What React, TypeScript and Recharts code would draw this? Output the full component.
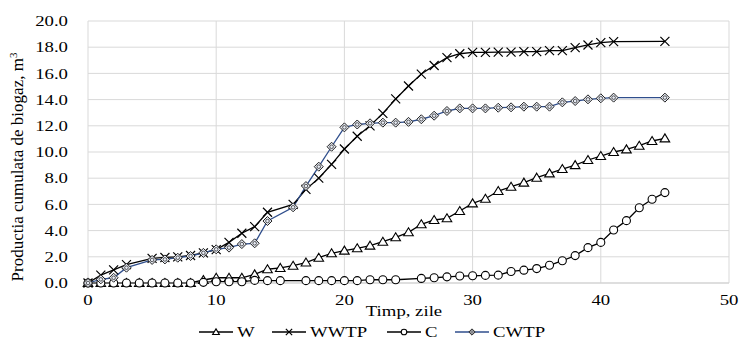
import { LineChart, Line, XAxis, YAxis, CartesianGrid, Legend } from 'recharts';

// zile (days) for each series
const daysW = [0, 1, 2, 3, 4, 5, 6, 7, 8, 9, 10, 11, 12, 13, 14, 15, 16, 17, 18, 19, 20, 21, 22, 23, 24, 25, 26, 27, 28, 29, 30, 31, 32, 33, 34, 35, 36, 37, 38, 39, 40, 41, 42, 43, 44, 45];
const valuesW = [0, 0, 0, 0, 0, 0, 0, 0, 0, 0.23, 0.4, 0.4, 0.4, 0.66, 1.05, 1.15, 1.32, 1.56, 1.93, 2.27, 2.47, 2.65, 2.85, 3.15, 3.49, 3.87, 4.48, 4.81, 4.94, 5.5, 6.08, 6.43, 7.02, 7.35, 7.66, 8.04, 8.37, 8.7, 9.0, 9.39, 9.69, 10.0, 10.2, 10.48, 10.84, 11.04];

const daysWWTP = [0, 1, 2, 3, 5, 6, 7, 8, 9, 10, 11, 12, 13, 14, 16, 17, 18, 19, 20, 21, 22, 23, 24, 25, 26, 27, 28, 29, 30, 31, 32, 33, 34, 35, 36, 37, 38, 39, 40, 41, 45];
const valuesWWTP = [0, 0.6, 1.0, 1.4, 1.88, 1.95, 2.0, 2.1, 2.3, 2.55, 3.1, 3.8, 4.3, 5.4, 6.0, 7.15, 8.0, 9.06, 10.23, 11.2, 12.0, 12.95, 14.05, 15.04, 15.95, 16.6, 17.2, 17.5, 17.6, 17.6, 17.62, 17.62, 17.66, 17.66, 17.74, 17.74, 17.97, 18.17, 18.35, 18.42, 18.45];

const daysC = [0, 1, 2, 3, 4, 5, 6, 7, 8, 9, 10, 11, 12, 13, 14, 15, 17, 18, 19, 20, 21, 22, 23, 24, 26, 27, 28, 29, 30, 31, 32, 33, 34, 35, 36, 37, 38, 39, 40, 41, 42, 43, 44, 45];
const valuesC = [0, 0, 0, 0, 0, 0, 0, 0, 0, 0.05, 0.1, 0.1, 0.1, 0.2, 0.18, 0.18, 0.18, 0.18, 0.18, 0.18, 0.18, 0.25, 0.25, 0.25, 0.35, 0.4, 0.47, 0.53, 0.55, 0.58, 0.6, 0.88, 0.98, 1.1, 1.35, 1.7, 2.09, 2.7, 3.1, 4.05, 4.76, 5.75, 6.39, 6.9];

const daysCWTP = [0, 1, 2, 3, 5, 6, 7, 8, 9, 10, 11, 12, 13, 14, 16, 17, 18, 19, 20, 21, 22, 23, 24, 25, 26, 27, 28, 29, 30, 31, 32, 33, 34, 35, 36, 37, 38, 39, 40, 41, 45];
const valuesCWTP = [0, 0.28, 0.4, 1.17, 1.76, 1.8, 1.93, 2.06, 2.3, 2.57, 2.7, 2.97, 3.03, 4.73, 5.78, 7.4, 8.88, 10.4, 11.88, 12.1, 12.19, 12.24, 12.24, 12.3, 12.5, 12.77, 13.13, 13.33, 13.33, 13.33, 13.38, 13.41, 13.46, 13.46, 13.46, 13.79, 13.89, 14.02, 14.1, 14.15, 14.15];

const xTicks = [0, 10, 20, 30, 40, 50];
const yTicks = [0, 2, 4, 6, 8, 10, 12, 14, 16, 18, 20];
const seriesNames = ['W', 'WWTP', 'C', 'CWTP'];

const toPoints = (days: number[], values: number[]) =>
  days.map((day, i) => ({ day, value: values[i] }));

const FONT = 'Liberation Serif, serif';
const STRETCH = 1.25;
const BLUE = '#2f4e8c';
const txt = { fontFamily: FONT, fontWeight: 400 };

type MarkerKind = 'tri' | 'x' | 'circ' | 'diam';

function marker(kind: MarkerKind, cx: number, cy: number, s: number, key?: string | number) {
  if (kind === 'tri') {
    return (
      <path key={key} d={`M${cx},${cy - 4.5 * s} L${cx + 4.8 * s},${cy + 3.5 * s} L${cx - 4.8 * s},${cy + 3.5 * s} Z`}
        fill="#fff" stroke="#000" strokeWidth={1.1} />
    );
  }
  if (kind === 'x') {
    const r = 4.5 * s;
    return (
      <path key={key} d={`M${cx - r},${cy - r} L${cx + r},${cy + r} M${cx - r},${cy + r} L${cx + r},${cy - r}`}
        stroke="#000" strokeWidth={1.2} fill="none" />
    );
  }
  if (kind === 'circ') {
    return <circle key={key} cx={cx} cy={cy} r={4 * s} fill="#fff" stroke="#000" strokeWidth={1.1} />;
  }
  const r = 4.5 * s;
  return (
    <g key={key}>
      <path d={`M${cx},${cy - r} L${cx + r},${cy} L${cx},${cy + r} L${cx - r},${cy} Z`}
        fill="#e6eaf3" stroke="#222" strokeWidth={1} />
      <circle cx={cx} cy={cy} r={1.8 * s} fill="none" stroke="#333" strokeWidth={0.8} />
    </g>
  );
}

const makeDot = (kind: MarkerKind) => (p: any) => {
  if (p.cx == null || p.cy == null) return <g key={p.index} />;
  return marker(kind, p.cx, p.cy, 1, `${kind}-${p.index}`);
};

const XTick = ({ x, y, payload }: any) => (
  <g transform={`translate(${x},${y})`}>
    <text transform={`scale(${STRETCH},1)`} textAnchor="middle" dy="0.35em" fontSize={15} style={txt} fill="#000">
      {payload.value}
    </text>
  </g>
);

const YTick = ({ x, y, payload }: any) => (
  <g transform={`translate(${x},${y})`}>
    <text transform={`scale(${STRETCH},1)`} textAnchor="end" dy="0.35em" fontSize={15} style={txt} fill="#000">
      {payload.value.toFixed(1)}
    </text>
  </g>
);

const legendItems: { name: string; kind: MarkerKind; color: string; x: number }[] = [
  { name: seriesNames[0], kind: 'tri', color: '#000', x: 199 },
  { name: seriesNames[1], kind: 'x', color: '#000', x: 272 },
  { name: seriesNames[2], kind: 'circ', color: '#000', x: 387 },
  { name: seriesNames[3], kind: 'diam', color: BLUE, x: 455 },
];

const LegendContent = () => (
  <svg width={739} height={28} style={{ display: 'block' }}>
    {legendItems.map((it) => (
      <g key={it.name}>
        <line x1={it.x} x2={it.x + 34} y1={14} y2={14} stroke={it.color} strokeWidth={1.3} />
        {marker(it.kind, it.x + 17, 14, 0.7)}
        <g transform={`translate(${it.x + 38},14)`}>
          <text transform={`scale(${STRETCH},1)`} dy="0.35em" fontSize={15} style={txt} fill="#000">
            {it.name}
          </text>
        </g>
      </g>
    ))}
  </svg>
);

export default function App() {
  return (
    <div style={{ position: 'absolute', left: 0, top: 0, background: '#fff', fontFamily: FONT }}>
      <LineChart width={739} height={349} margin={{ top: 21, right: 10, left: 20, bottom: 3 }}>
        <CartesianGrid stroke="#d9d9d9" strokeWidth={1} />
        <XAxis
          type="number"
          dataKey="day"
          domain={[0, 50]}
          ticks={xTicks}
          height={35}
          tickLine={false}
          tickSize={0}
          tickMargin={17}
          axisLine={{ stroke: '#d0d0d0' }}
          tick={<XTick />}
          label={{
            content: () => (
              <g transform="translate(404,311)">
                <text transform={`scale(${STRETCH},1)`} textAnchor="middle" dy="0.35em" fontSize={15} style={txt} fill="#000">
                  Timp, zile
                </text>
              </g>
            ),
          }}
        />
        <YAxis
          type="number"
          domain={[0, 20]}
          ticks={yTicks}
          width={68}
          axisLine={false}
          tickLine={false}
          tickSize={0}
          tickMargin={20}
          tick={<YTick />}
          label={{
            content: () => (
              <text transform="rotate(-90,17,167)" x={17} y={167} textAnchor="middle" dy="0.35em" fontSize={17} style={txt} fill="#000">
                Productia cumulata de biogaz, m
                <tspan dy={-6} fontSize={11}>3</tspan>
              </text>
            ),
          }}
        />
        <Legend verticalAlign="bottom" height={28} wrapperStyle={{ left: 0, width: 739 }} content={<LegendContent />} />
        <Line data={toPoints(daysW, valuesW)} dataKey="value" name={seriesNames[0]} type="linear" stroke="#000" strokeWidth={1.3}
          dot={makeDot('tri')} activeDot={false} isAnimationActive={false} />
        <Line data={toPoints(daysWWTP, valuesWWTP)} dataKey="value" name={seriesNames[1]} type="linear" stroke="#000" strokeWidth={1.3}
          dot={makeDot('x')} activeDot={false} isAnimationActive={false} />
        <Line data={toPoints(daysC, valuesC)} dataKey="value" name={seriesNames[2]} type="linear" stroke="#000" strokeWidth={1.3}
          dot={makeDot('circ')} activeDot={false} isAnimationActive={false} />
        <Line data={toPoints(daysCWTP, valuesCWTP)} dataKey="value" name={seriesNames[3]} type="linear" stroke={BLUE} strokeWidth={1.3}
          dot={makeDot('diam')} activeDot={false} isAnimationActive={false} />
      </LineChart>
    </div>
  );
}
